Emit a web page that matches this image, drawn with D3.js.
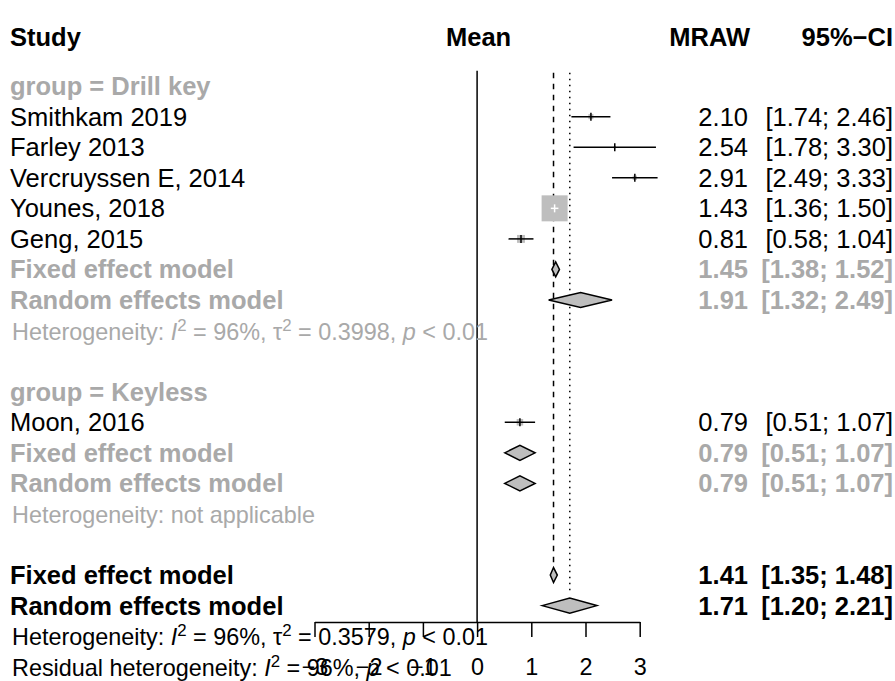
<!DOCTYPE html>
<html>
<head>
<meta charset="utf-8">
<script src="https://cdn.jsdelivr.net/npm/d3@7"></script>
<style>
  html, body { margin: 0; padding: 0; background: #fff; }
  svg { display: block; font-family: "Liberation Sans", Arial, sans-serif; }
</style>
</head>
<body>
<svg id="chart" width="895" height="681"></svg>
<script>
// ---- Study-level data ----
const studies   = ["Smithkam 2019", "Farley 2013", "Vercruyssen E, 2014", "Younes, 2018", "Geng, 2015", "Moon, 2016"];
const studyGrp  = ["Drill key", "Drill key", "Drill key", "Drill key", "Drill key", "Keyless"];
const studyMean = [2.10, 2.54, 2.91, 1.43, 0.81, 0.79];
const studyLow  = [1.74, 1.78, 2.49, 1.36, 0.58, 0.51];
const studyUp   = [2.46, 3.30, 3.33, 1.50, 1.04, 1.07];

// ---- Subgroup summaries ----
const groups      = ["Drill key", "Keyless"];
const grpFixed    = [[1.45, 1.38, 1.52], [0.79, 0.51, 1.07]];
const grpRandom   = [[1.91, 1.32, 2.49], [0.79, 0.51, 1.07]];
const grpHet      = [
  [{t: "Heterogeneity: "}, {t: "I", i: true}, {t: "2", sup: true}, {t: " = 96%, τ"}, {t: "2", sup: true}, {t: " = 0.3998, "}, {t: "p", i: true}, {t: " < 0.01"}],
  [{t: "Heterogeneity: not applicable"}]
];

// ---- Overall summaries ----
const overallFixed  = [1.41, 1.35, 1.48];
const overallRandom = [1.71, 1.20, 2.21];
const overallHet = [{t: "Heterogeneity: "}, {t: "I", i: true}, {t: "2", sup: true}, {t: " = 96%, τ"}, {t: "2", sup: true}, {t: " = 0.3579, "}, {t: "p", i: true}, {t: " < 0.01"}];
const residualHet = [{t: "Residual heterogeneity: "}, {t: "I", i: true}, {t: "2", sup: true}, {t: " = 96%, "}, {t: "p", i: true}, {t: " < 0.01"}];

// ---- Axis ----
const tickValues = [-3, -2, -1, 0, 1, 2, 3];
const headers = {study: "Study", mean: "Mean", est: "MRAW", ci: "95%−CI"};

const GREY_TXT = "#a9a9a9";
const GREY_FILL = "#bebebe";
const FS = 25.5, FS_HET = 23.4;

const svg = d3.select("#chart");
const x = d3.scaleLinear().domain([-3, 3]).range([314.5, 639.7]);
const row = d3.scaleLinear().domain([0, 19]).range([86.1, 86.1 + 19 * 30.56]);
const axisY = 622;

const fmt = d3.format(".2f");
const ciText = d => `[${fmt(d[1])}; ${fmt(d[2])}]`;

// Build row layout
const rows = [];
let r = 0;
groups.forEach((g, gi) => {
  rows.push({type: "group", r: r++, label: "group = " + g});
  studies.forEach((s, si) => {
    if (studyGrp[si] === g) rows.push({type: "study", r: r++, idx: si, label: s, v: [studyMean[si], studyLow[si], studyUp[si]]});
  });
  rows.push({type: "sumF", r: r++, label: "Fixed effect model", v: grpFixed[gi], grey: true});
  rows.push({type: "sumR", r: r++, label: "Random effects model", v: grpRandom[gi], grey: true});
  rows.push({type: "het", r: r++, parts: grpHet[gi], grey: true});
  r++; // spacer
});
rows.push({type: "sumF", r: r++, label: "Fixed effect model", v: overallFixed, grey: false});
rows.push({type: "sumR", r: r++, label: "Random effects model", v: overallRandom, grey: false});
rows.push({type: "het", r: r++, parts: overallHet, grey: false});
rows.push({type: "het", r: r++, parts: residualHet, grey: false});

// Headers
const hdr = svg.append("g").attr("font-weight", "bold").attr("font-size", FS).attr("fill", "#000");
hdr.append("text").attr("x", 10).attr("y", 46).text(headers.study);
hdr.append("text").attr("x", x(0) + 1.5).attr("y", 46).attr("text-anchor", "middle").text(headers.mean);
hdr.append("text").attr("x", 750).attr("y", 46).attr("text-anchor", "end").text(headers.est);
hdr.append("text").attr("x", 893).attr("y", 46).attr("text-anchor", "end").text(headers.ci);

// Reference lines: null effect, fixed and random overall estimates
const lineTop = row(-0.5);
svg.append("line").attr("x1", x(0)).attr("x2", x(0)).attr("y1", lineTop).attr("y2", axisY)
  .attr("stroke", "#000").attr("stroke-width", 1.5);
svg.append("line").attr("x1", x(overallFixed[0])).attr("x2", x(overallFixed[0]))
  .attr("y1", lineTop + 2).attr("y2", row(15.6))
  .attr("stroke", "#000").attr("stroke-width", 1.5).attr("stroke-dasharray", "5.5,5.5");
svg.append("line").attr("x1", x(overallRandom[0])).attr("x2", x(overallRandom[0]))
  .attr("y1", lineTop + 2).attr("y2", row(16.6))
  .attr("stroke", "#000").attr("stroke-width", 1.5).attr("stroke-dasharray", "1.5,4.5");

// Square sizes from inverse-variance weights
const se = i => (studyUp[i] - studyLow[i]) / (2 * 1.959964);
const maxInfo = d3.max(studies, (s, i) => 1 / se(i));
const boxScale = d3.scaleLinear().domain([0, maxInfo]).range([0, 26]);

const hw = 4;   // half height of estimate tick
const dh = 7.5; // half height of diamonds

rows.forEach(d => {
  const y = row(d.r);
  const base = y + 9;
  if (d.type === "group") {
    svg.append("text").attr("x", 10).attr("y", base).attr("font-size", FS).attr("font-weight", "bold")
      .attr("fill", GREY_TXT).text(d.label);
  } else if (d.type === "study") {
    const side = boxScale(1 / se(d.idx));
    const cx = x(d.v[0]);
    svg.append("rect").attr("x", cx - side / 2).attr("y", y - side / 2).attr("width", side).attr("height", side)
      .attr("fill", GREY_FILL);
    const inside = side > (x(d.v[2]) - x(d.v[1]));
    const lc = inside ? "#fff" : "#000";
    svg.append("line").attr("x1", x(d.v[1])).attr("x2", x(d.v[2])).attr("y1", y).attr("y2", y)
      .attr("stroke", lc).attr("stroke-width", 1.5);
    svg.append("line").attr("x1", cx).attr("x2", cx).attr("y1", y - hw).attr("y2", y + hw)
      .attr("stroke", lc).attr("stroke-width", 1.5);
    svg.append("text").attr("x", 10).attr("y", base).attr("font-size", FS).attr("fill", "#000").text(d.label);
    svg.append("text").attr("x", 748).attr("y", base).attr("font-size", FS).attr("text-anchor", "end").text(fmt(d.v[0]));
    svg.append("text").attr("x", 893).attr("y", base).attr("font-size", FS).attr("text-anchor", "end").text(ciText(d.v));
  } else if (d.type === "sumF" || d.type === "sumR") {
    const col = d.grey ? GREY_TXT : "#000";
    const pts = [[x(d.v[1]), y], [x(d.v[0]), y - dh], [x(d.v[2]), y], [x(d.v[0]), y + dh]];
    svg.append("path").attr("d", "M" + pts.join("L") + "Z").attr("fill", GREY_FILL)
      .attr("stroke", "#000").attr("stroke-width", 1.5);
    const g = svg.append("g").attr("font-size", FS).attr("font-weight", "bold").attr("fill", col);
    g.append("text").attr("x", 10).attr("y", base).text(d.label);
    g.append("text").attr("x", 748).attr("y", base).attr("text-anchor", "end").text(fmt(d.v[0]));
    g.append("text").attr("x", 893).attr("y", base).attr("text-anchor", "end").text(ciText(d.v));
  } else if (d.type === "het") {
    const t = svg.append("text").attr("x", 12).attr("y", base).attr("font-size", FS_HET)
      .attr("fill", d.grey ? GREY_TXT : "#000");
    let afterSup = false;
    d.parts.forEach(p => {
      const ts = t.append("tspan").text(p.t);
      if (p.i) ts.attr("font-style", "italic");
      if (p.sup) {
        ts.attr("font-size", FS_HET * 0.72).attr("dy", -9);
        afterSup = true;
      } else if (afterSup) {
        ts.attr("dy", 9);
        afterSup = false;
      }
    });
  }
});

// Axis
const axis = d3.axisBottom(x).tickValues(tickValues).tickSize(15).tickSizeOuter(0).tickPadding(22);
const ax = svg.append("g").attr("transform", `translate(0,${axisY})`).call(axis);
ax.select(".domain").attr("stroke", "#000").attr("stroke-width", 1.5);
ax.selectAll(".tick line").attr("stroke", "#000").attr("stroke-width", 1.5);
ax.selectAll(".tick text").attr("font-size", FS_HET).attr("fill", "#000")
  .attr("font-family", "'Liberation Sans', Arial, sans-serif").attr("dy", null).attr("y", 53)
  .text(d => d < 0 ? "−" + Math.abs(d) : d);
</script>
</body>
</html>
